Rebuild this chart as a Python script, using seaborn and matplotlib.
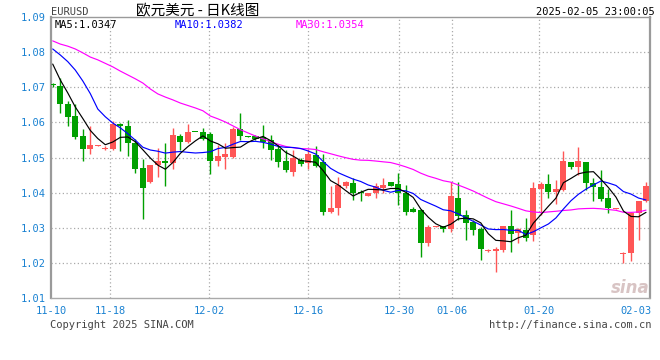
import numpy as np
import pandas as pd
import matplotlib
matplotlib.use("Agg")
import matplotlib.pyplot as plt
import seaborn as sns

# ---------------- data ----------------
opens = [1.0709, 1.0704, 1.0652, 1.0618, 1.0561, 1.0525, 1.0534, 1.0524, 1.0525, 1.0596,
         1.0590, 1.0541, 1.0471, 1.0429, 1.0478, 1.0490, 1.0483, 1.0561, 1.0545, 1.0574,
         1.0573, 1.0567, 1.0491, 1.0502, 1.0502, 1.0581, 1.0561, 1.0560, 1.0558, 1.0550,
         1.0524, 1.0490, 1.0460, 1.0493, 1.0484, 1.0507, 1.0488, 1.0346, 1.0357, 1.0420,
         1.0427, 1.0403, 1.0389, 1.0398, 1.0413, 1.0429, 1.0425, 1.0400, 1.0354, 1.0351,
         1.0258, 1.0303, 1.0305, 1.0296, 1.0386, 1.0337, 1.0315, 1.0297, 1.0233, 1.0235,
         1.0236, 1.0305, 1.0285, 1.0294, 1.0280, 1.0411, 1.0425, 1.0403, 1.0408, 1.0487,
         1.0474, 1.0487, 1.0427, 1.0415, 1.0384, 1.0352, 1.0225, 1.0228, 1.0341, 1.0375]
highs = [1.0712, 1.0726, 1.0661, 1.0652, 1.0581, 1.0590, 1.0536, 1.0532, 1.0603, 1.0598,
         1.0606, 1.0552, 1.0496, 1.0478, 1.0526, 1.0542, 1.0584, 1.0567, 1.0596, 1.0574,
         1.0584, 1.0573, 1.0535, 1.0541, 1.0586, 1.0627, 1.0562, 1.0564, 1.0593, 1.0564,
         1.0536, 1.0522, 1.0522, 1.0498, 1.0524, 1.0533, 1.0509, 1.0419, 1.0444, 1.0434,
         1.0441, 1.0408, 1.0400, 1.0427, 1.0443, 1.0431, 1.0457, 1.0422, 1.0359, 1.0352,
         1.0308, 1.0305, 1.0306, 1.0431, 1.0431, 1.0351, 1.0322, 1.0303, 1.0239, 1.0245,
         1.0306, 1.0351, 1.0299, 1.0327, 1.0431, 1.0431, 1.0452, 1.0436, 1.0519, 1.0488,
         1.0531, 1.0488, 1.0441, 1.0465, 1.0410, 1.0355, 1.0232, 1.0346, 1.0377, 1.0429]
lows = [1.0700, 1.0626, 1.0591, 1.0552, 1.0491, 1.0511, 1.0534, 1.0522, 1.0522, 1.0519,
        1.0503, 1.0457, 1.0326, 1.0427, 1.0444, 1.0420, 1.0468, 1.0522, 1.0541, 1.0572,
        1.0550, 1.0454, 1.0476, 1.0468, 1.0500, 1.0550, 1.0558, 1.0550, 1.0526, 1.0493,
        1.0474, 1.0460, 1.0448, 1.0477, 1.0468, 1.0474, 1.0337, 1.0341, 1.0337, 1.0413,
        1.0379, 1.0377, 1.0389, 1.0384, 1.0398, 1.0420, 1.0365, 1.0337, 1.0346, 1.0218,
        1.0247, 1.0303, 1.0289, 1.0289, 1.0322, 1.0266, 1.0280, 1.0207, 1.0231, 1.0173,
        1.0232, 1.0232, 1.0256, 1.0261, 1.0261, 1.0337, 1.0386, 1.0368, 1.0406, 1.0468,
        1.0449, 1.0408, 1.0377, 1.0377, 1.0342, 1.0352, 1.0201, 1.0204, 1.0266, 1.0372]
closes = [1.0706, 1.0652, 1.0616, 1.0557, 1.0525, 1.0536, 1.0536, 1.0528, 1.0596, 1.0591,
          1.0541, 1.0468, 1.0414, 1.0478, 1.0490, 1.0483, 1.0564, 1.0545, 1.0573, 1.0572,
          1.0554, 1.0491, 1.0505, 1.0510, 1.0581, 1.0561, 1.0559, 1.0554, 1.0545, 1.0522,
          1.0488, 1.0465, 1.0500, 1.0482, 1.0510, 1.0476, 1.0346, 1.0357, 1.0422, 1.0429,
          1.0398, 1.0398, 1.0400, 1.0419, 1.0422, 1.0420, 1.0398, 1.0346, 1.0346, 1.0258,
          1.0302, 1.0305, 1.0296, 1.0389, 1.0334, 1.0313, 1.0294, 1.0239, 1.0235, 1.0240,
          1.0305, 1.0282, 1.0296, 1.0270, 1.0413, 1.0424, 1.0403, 1.0411, 1.0490, 1.0474,
          1.0490, 1.0427, 1.0417, 1.0382, 1.0356, 1.0354, 1.0228, 1.0341, 1.0377, 1.0419]

# moving-average values before enough candles are visible
ma5_head = [1.0766, 1.0721, 1.0684, 1.0644]
ma10_head = [1.0809, 1.0792, 1.0773, 1.0749, 1.0718, 1.0682, 1.0638, 1.0616, 1.0598]
ma30_head = [1.0832, 1.0823, 1.0817, 1.0809, 1.0798, 1.0786, 1.0778, 1.0768, 1.0758, 1.0746,
             1.0735, 1.0724, 1.0712, 1.0695, 1.0681, 1.0672, 1.0664, 1.0655, 1.0648, 1.0641,
             1.0633, 1.0618, 1.0610, 1.0601, 1.0590, 1.0579, 1.0570, 1.0561, 1.0553]

ma_labels = ["MA5:1.0347", "MA10:1.0382", "MA30:1.0354"]
date_labels = ["11-10", "11-18", "12-02", "12-16", "12-30", "01-06", "01-20", "02-03"]
y_ticks = [1.01, 1.02, 1.03, 1.04, 1.05, 1.06, 1.07, 1.08, 1.09]

# ---------------- layout ----------------
date_pos = [-0.2, 7.67, 20.85, 34.0, 46.1, 53.2, 64.7, 77.6]   # candle-index positions
W, H = 660, 360
RED, GREEN = "#ff5656", "#00a000"
BLUE_TXT = "#1a82d2"

df = pd.DataFrame({"open": opens, "high": highs, "low": lows, "close": closes})
df["i"] = np.arange(len(df))
c = df["close"]
ma5 = c.rolling(5).mean()
ma5.iloc[:len(ma5_head)] = ma5_head
ma10 = c.rolling(10).mean()
ma10.iloc[:len(ma10_head)] = ma10_head
ma30 = c.rolling(30).mean()
ma30.iloc[:len(ma30_head)] = ma30_head
df["ma5"], df["ma10"], df["ma30"] = ma5, ma10, ma30

sns.set_theme(style="white")
plt.rcParams["font.family"] = ["DejaVu Sans Mono", "Noto Sans CJK SC"]

fig = plt.figure(figsize=(W / 100, H / 100), dpi=100)
fig.patch.set_facecolor("white")
ax = fig.add_axes([51 / W, 1 - 298 / H, (650 - 51) / W, (298 - 17) / H])

ax.set_xlim(-0.23, 79.53)
ax.set_ylim(1.01, 1.09)

grid_kw = dict(color="#aaaaaa", lw=0.9, ls=(0, (1, 2)), zorder=0)
for y in y_ticks[1:-1]:
    ax.axhline(y, **grid_kw)
for p in date_pos[1:-1]:
    ax.axvline(p, **grid_kw)

# candles
for _, r in df.iterrows():
    up = r["close"] >= r["open"]
    col = RED if up else GREEN
    ax.vlines(r["i"], r["low"], r["high"], color=col, lw=1.0, zorder=2)
    bottom = min(r["open"], r["close"])
    h = max(abs(r["close"] - r["open"]), 0.0003)
    ax.bar(r["i"], h, bottom=bottom, width=0.8, color=col, linewidth=0, zorder=3)

# moving averages
sns.lineplot(data=df, x="i", y="ma30", color="#ff00ff", lw=0.85, ax=ax, zorder=4)
sns.lineplot(data=df, x="i", y="ma10", color="#0000ff", lw=0.85, ax=ax, zorder=5)
sns.lineplot(data=df, x="i", y="ma5", color="black", lw=0.85, ax=ax, zorder=6)
ax.set_xlabel("")
ax.set_ylabel("")

# ticks
ax.set_yticks(y_ticks)
ax.set_yticklabels([f"{v:.2f}" for v in y_ticks], color=BLUE_TXT, fontsize=7.5)
ax.set_xticks(date_pos)
ax.set_xticklabels(date_labels, color=BLUE_TXT, fontsize=7.5)
ax.tick_params(axis="both", length=0)
ax.tick_params(axis="y", pad=4)
ax.tick_params(axis="x", pad=6)

for s in ["left", "top", "right"]:
    ax.spines[s].set_color("#9a9a9a")
ax.spines["left"].set_linewidth(1.6)
ax.spines["right"].set_linewidth(1.6)
ax.spines["top"].set_linewidth(1.0)
ax.spines["bottom"].set_color("#aaaaaa")
ax.spines["bottom"].set_linestyle((0, (1, 1)))
ax.spines["bottom"].set_linewidth(1.0)


def ftext(x, y, s, **kw):
    fig.text(x / W, 1 - y / H, s, **kw)


ftext(51, 12, "EURUSD", fontsize=7.5, color="#444444", va="center", ha="left")
ftext(198, 11, "欧元美元 - 日K线图", fontsize=10.5, color="black", va="center", ha="center",
      family=["Noto Sans CJK SC", "DejaVu Sans"])
ftext(655, 12, "2025-02-05 23:00:05", fontsize=7.5, color="black", va="center", ha="right")

ftext(55, 25, ma_labels[0], fontsize=7.5, color="black", va="center", ha="left")
ftext(175, 25, ma_labels[1], fontsize=7.5, color="#0000ff", va="center", ha="left")
ftext(296, 25, ma_labels[2], fontsize=7.5, color="#ff00ff", va="center", ha="left")

ftext(50, 325, "Copyright 2025 SINA.COM", fontsize=7.5, color="#444444", va="center", ha="left")
ftext(652, 325, "http://finance.sina.com.cn", fontsize=7.5, color="#444444", va="center", ha="right")

ftext(630, 288, "sina", fontsize=12, color="#d8c4c4", va="center", ha="center",
      style="italic", weight="bold", family=["DejaVu Sans"])

fig.savefig("out.png", dpi=100)
